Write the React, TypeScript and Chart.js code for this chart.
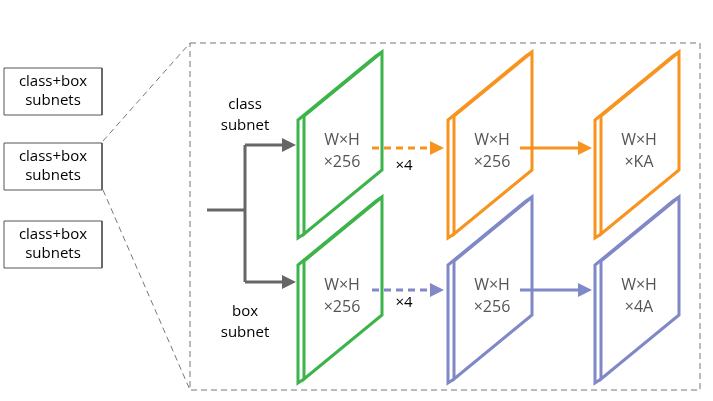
import { useEffect, useRef } from "react";
import { Chart, registerables } from "chart.js";

Chart.register(...registerables);

const GREEN = "#3cb44a";
const ORANGE = "#f7931e";
const BLUE = "#8088c8";
const GRAY = "#666666";

// panels: [x0, yTop, colour]
const panels: [number, number, string][] = [
  [298, 52, GREEN],
  [298, 197, GREEN],
  [448, 52, ORANGE],
  [595, 52, ORANGE],
  [448, 197, BLUE],
  [595, 197, BLUE],
];
const panelText: [number, number, string, string][] = [
  [342, 52, "W×H", "×256"],
  [342, 197, "W×H", "×256"],
  [492, 52, "W×H", "×256"],
  [639, 52, "W×H", "×KA"],
  [492, 197, "W×H", "×256"],
  [639, 197, "W×H", "×4A"],
];
const leftBoxes = [68, 143, 221];
// arrows: [x1, y1, x2, y2, colour, dashed]
const arrows: [number, number, number, number, string, boolean][] = [
  [245, 145, 296, 145, GRAY, false],
  [245, 282, 296, 282, GRAY, false],
  [372, 148, 444, 148, ORANGE, true],
  [520, 148, 592, 148, ORANGE, false],
  [372, 290, 444, 290, BLUE, true],
  [520, 290, 592, 290, BLUE, false],
];
const labels: [number, number, string][] = [
  [245, 105, "class"],
  [245, 126, "subnet"],
  [245, 312, "box"],
  [245, 333, "subnet"],
  [404, 166, "×4"],
  [404, 303, "×4"],
];

const pts = (a: number[][]) => a.map(([x, y]) => ({ x, y }));

function buildDatasets() {
  const ds: any[] = [];
  const line = (p: number[][], color: string, width: number, dash: number[] = []) =>
    ds.push({ data: pts(p), showLine: true, pointRadius: 0, borderColor: color, borderWidth: width, borderDash: dash, fill: false });
  leftBoxes.forEach((y) => line([[4, y], [102, y], [102, y + 47], [4, y + 47], [4, y]], "#555", 1));
  line([[190, 43], [700, 43], [700, 390], [190, 390], [190, 43]], "#777", 1, [6, 4]);
  line([[103, 141], [190, 43]], "#777", 1, [6, 4]);
  line([[103, 190], [190, 390]], "#777", 1, [6, 4]);
  line([[207, 210], [245, 210]], GRAY, 3);
  line([[245, 145], [245, 282]], GRAY, 3);
  panels.forEach(([x, y, c]) => {
    // front face
    line([[x + 6, y + 64], [x + 84, y], [x + 84, y + 118], [x + 6, y + 182], [x + 6, y + 64]], c, 3);
    // visible depth edges (left and top)
    line([[x + 84, y], [x + 78, y + 4], [x, y + 68], [x, y + 186], [x + 6, y + 182]], c, 3);
  });
  arrows.forEach(([x1, y1, x2, y2, c, d]) => line([[x1, y1], [x2 - 8, y2]], c, 3, d ? [7, 5] : []));
  return ds;
}

const overlay = {
  id: "overlay",
  afterDatasetsDraw(chart: any) {
    const { ctx, scales } = chart;
    const X = (v: number) => scales.x.getPixelForValue(v);
    const Y = (v: number) => scales.y.getPixelForValue(v);
    ctx.save();
    arrows.forEach(([, , x2, y2, c]) => {
      ctx.fillStyle = c;
      ctx.beginPath();
      ctx.moveTo(X(x2), Y(y2));
      ctx.lineTo(X(x2 - 14), Y(y2 - 7));
      ctx.lineTo(X(x2 - 14), Y(y2 + 7));
      ctx.closePath();
      ctx.fill();
    });
    ctx.textAlign = "center";
    ctx.textBaseline = "middle";
    ctx.fillStyle = "#000";
    ctx.font = "15px 'Open Sans', sans-serif";
    leftBoxes.forEach((y) => {
      ctx.fillText("class+box", X(53), Y(y + 14));
      ctx.fillText("subnets", X(53), Y(y + 33));
    });
    labels.forEach(([x, y, t]) => ctx.fillText(t, X(x), Y(y)));
    ctx.fillStyle = "#555";
    ctx.font = "16px 'Open Sans', sans-serif";
    panelText.forEach(([x, y, a, b]) => {
      ctx.fillText(a, X(x), Y(y + 88));
      ctx.fillText(b, X(x), Y(y + 110));
    });
    ctx.restore();
  },
};

export default function App() {
  const ref = useRef<HTMLCanvasElement>(null);
  useEffect(() => {
    document.body.style.margin = "0";
    if (!ref.current) return;
    const chart = new Chart(ref.current, {
      type: "scatter",
      data: { datasets: buildDatasets() },
      options: {
        animation: false,
        responsive: false,
        layout: { padding: 0 },
        plugins: { legend: { display: false }, tooltip: { enabled: false } },
        scales: {
          x: { type: "linear", min: 0, max: 713, display: false },
          y: { type: "linear", min: 0, max: 401, reverse: true, display: false },
        },
      },
      plugins: [overlay],
    });
    return () => chart.destroy();
  }, []);
  return <canvas ref={ref} width={713} height={401} style={{ display: "block" }} />;
}
